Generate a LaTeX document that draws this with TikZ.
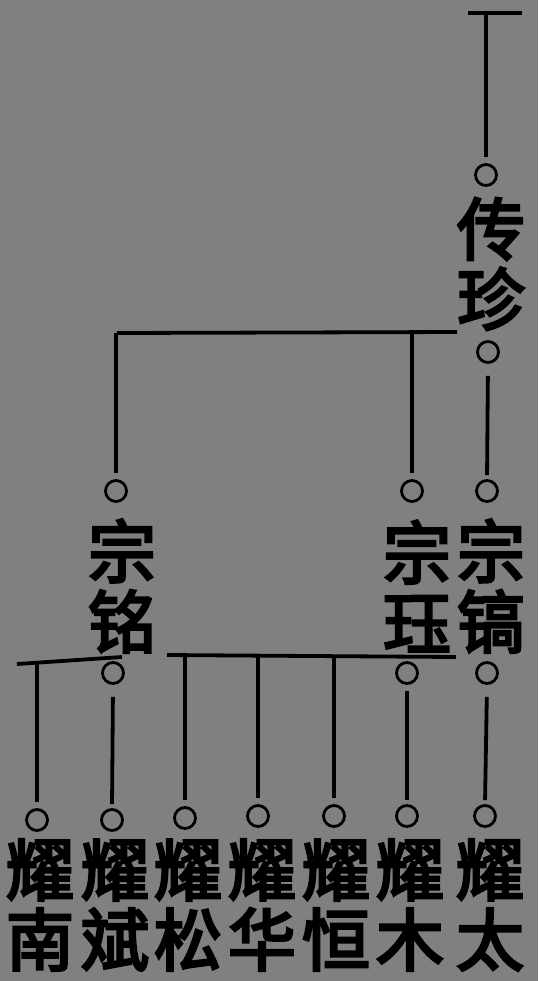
\documentclass[tikz,border=0pt]{standalone}
\usepackage{fontspec}
\newfontfamily\cjk[FakeBold=4]{Noto Sans CJK SC}

\begin{document}
\begin{tikzpicture}[x=0.5pt,y=-0.5pt,line width=1.9pt,
    ring/.style={circle,draw,line width=1.4pt,minimum size=10.5pt,inner sep=0pt},
    given/.style={font=\cjk\fontsize{34}{35}\selectfont,align=center,inner sep=0pt},
    link/.style={shorten >=2pt,shorten <=2pt}]
                \fill[gray] (0,0) rectangle (538,981);
                \useasboundingbox (0,0) rectangle (538,981);
                % first generation
                \coordinate (topl) at (468,13);
                \coordinate (topr) at (522,13);
                \draw (topl) -- (topr);
                \node[ring] (chuan) at (486,175) {};
                \node[given] (chuanzhen) at (491,264) {传\\珍};
                \node[ring] (zhen) at (488,352) {};
                \draw[shorten >=3pt] (chuan.north |- topl) -- (chuan.north);
                % second generation
                \coordinate (bara) at (117,333);
                \coordinate (barb) at (457,332);
                \draw (bara) -- (barb);
                \node[ring] (ming) at (116,491) {};
                \node[ring] (jue) at (412,491) {};
                \node[ring] (gao) at (487,491) {};
                \node[given] (zongming) at (122,586) {宗\\铭};
                \node[given] (zongjue) at (417,586) {宗\\珏};
                \node[given] (zonggao) at (491,586) {宗\\镐};
                \draw[shorten >=3pt] (ming.north |- bara) -- (ming.north);
                \draw[shorten >=3pt] (jue.north |- bara) -- (jue.north);
                \draw[link,shorten <=6pt] (zhen.south) -- (gao.north);
                \node[ring] (mingb) at (113,673) {};
                \node[ring] (jueb) at (407,673) {};
                \node[ring] (gaob) at (487,673) {};
                % third generation
                \coordinate (barc) at (17,664);
                \coordinate (bard) at (122,657);
                \coordinate (bare) at (167,655);
                \coordinate (barf) at (456,657);
                \draw (barc) -- (bard);
                \draw (bare) -- (barf);
                \node[ring] (nan) at (37,820) {};
                \node[ring] (bin) at (112,820) {};
                \node[ring] (song) at (185,818) {};
                \node[ring] (hua) at (258,816) {};
                \node[ring] (heng) at (334,816) {};
                \node[ring] (mu) at (407,816) {};
                \node[ring] (tai) at (485,816) {};
                \node[given] (yaonan) at (40,905) {耀\\南};
                \node[given] (yaobin) at (115,905) {耀\\斌};
                \node[given] (yaosong) at (188,905) {耀\\松};
                \node[given] (yaohua) at (262,905) {耀\\华};
                \node[given] (yaoheng) at (336,905) {耀\\恒};
                \node[given] (yaomu) at (410,905) {耀\\木};
                \node[given] (yaotai) at (490,905) {耀\\太};
                \draw[shorten >=3pt] (nan.north |- barc) -- (nan.north);
                \draw[link,shorten <=6pt] (mingb.south) -- (bin.north);
                \draw[shorten >=3pt] (song.north |- bare) -- (song.north);
                \draw[shorten >=3pt] (hua.north |- bare) -- (hua.north);
                \draw[shorten >=3pt] (heng.north |- bare) -- (heng.north);
                \draw[link,shorten <=3pt] (jueb.south) -- (mu.north);
                \draw[link,shorten <=6pt] (gaob.south) -- (tai.north);
            \end{tikzpicture}
\end{document}
